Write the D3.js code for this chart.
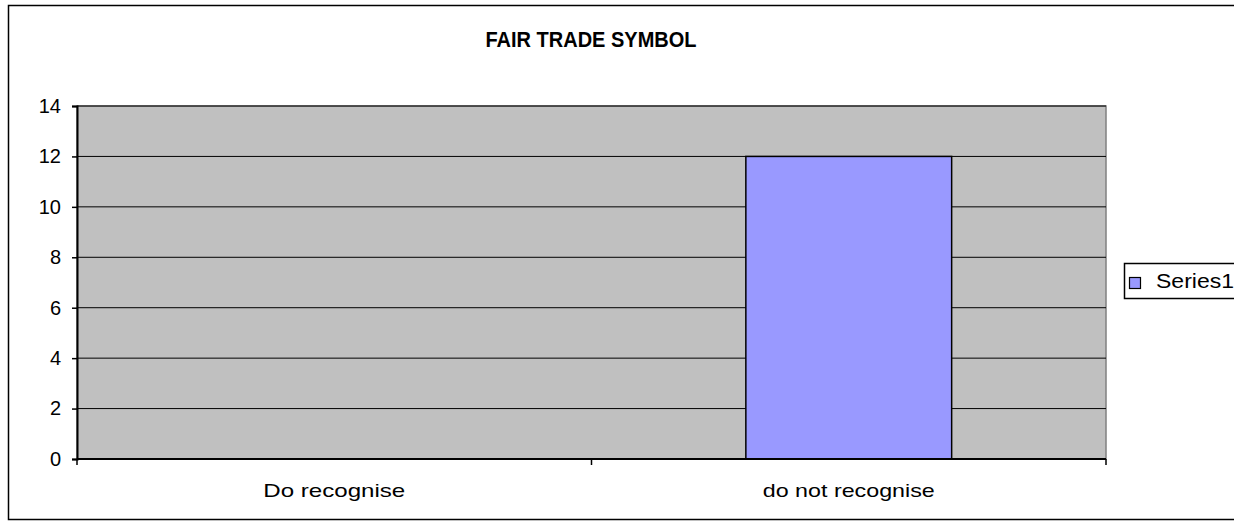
<!DOCTYPE html>
<html>
<head>
<meta charset="utf-8">
<script src="https://cdn.jsdelivr.net/npm/d3@7"></script>
<style>
  body { margin: 0; background: #fff; }
  text { font-family: Arial, "Liberation Sans", sans-serif; }
</style>
</head>
<body>
<div id="chart"></div>
<script>
const categories = ["Do recognise", "do not recognise"];
const series1 = [0, 12];
const yTicks = [0, 2, 4, 6, 8, 10, 12, 14];
const title = "FAIR TRADE SYMBOL";
const seriesName = "Series1";

const W = 1234, H = 521;
const m = { left: 77, right: 128, top: 106, bottom: 62 };

const svg = d3.select("#chart").append("svg")
  .attr("width", W).attr("height", H);

// outer frame
svg.append("rect")
  .attr("x", 8.5).attr("y", 5.5)
  .attr("width", 1232).attr("height", 514)
  .attr("fill", "#fff").attr("stroke", "#000").attr("stroke-width", 1.5);

const x = d3.scaleBand().domain(categories)
  .range([m.left, W - m.right]).paddingInner(0.6).paddingOuter(0.3);
const y = d3.scaleLinear().domain([0, 14]).range([H - m.bottom, m.top]);

// plot area
svg.append("rect")
  .attr("x", m.left).attr("y", m.top)
  .attr("width", W - m.right - m.left).attr("height", y(0) - m.top)
  .attr("fill", "#c0c0c0").attr("stroke", "#808080").attr("stroke-width", 1.5);

// gridlines
svg.append("g").selectAll("line").data(yTicks.slice(1)).join("line")
  .attr("x1", m.left).attr("x2", W - m.right)
  .attr("y1", d => y(d)).attr("y2", d => y(d))
  .attr("stroke", "#000").attr("stroke-width", 1);

// bars
svg.append("g").selectAll("rect").data(series1).join("rect")
  .attr("x", (d, i) => x(categories[i]))
  .attr("y", d => y(d))
  .attr("width", x.bandwidth())
  .attr("height", d => y(0) - y(d))
  .attr("fill", "#9999ff").attr("stroke", "#000").attr("stroke-width", 1.5)
  .style("display", d => d > 0 ? null : "none");

// y axis
const yAxis = svg.append("g")
  .attr("transform", `translate(${m.left},0)`)
  .call(d3.axisLeft(y).tickValues(yTicks).tickSize(5).tickPadding(11));
yAxis.select(".domain").attr("stroke-width", 2);
yAxis.selectAll(".tick line").attr("stroke-width", 1.5);
yAxis.selectAll("text").attr("font-size", 20).attr("fill", "#000")
  .style("font-family", "Arial, 'Liberation Sans', sans-serif");

// x axis
const step = x.step();
const xBounds = [m.left, m.left + step * 1, W - m.right];
const xAxis = svg.append("g").attr("transform", `translate(0,${y(0)})`);
xAxis.append("line").attr("x1", m.left).attr("x2", W - m.right)
  .attr("stroke", "#000").attr("stroke-width", 2);
xAxis.selectAll("line.tk").data(xBounds).join("line").attr("class", "tk")
  .attr("x1", d => d).attr("x2", d => d).attr("y1", 0).attr("y2", 6)
  .attr("stroke", "#000").attr("stroke-width", 1.5);
const catWidths = [142, 172];
xAxis.selectAll("text").data(categories).join("text")
  .attr("x", d => x(d) + x.bandwidth() / 2)
  .attr("y", 38).attr("text-anchor", "middle")
  .attr("font-size", 19).attr("fill", "#000")
  .attr("textLength", (d, i) => catWidths[i])
  .attr("lengthAdjust", "spacingAndGlyphs")
  .text(d => d);

// title
svg.append("text")
  .attr("x", 591).attr("y", 47).attr("text-anchor", "middle")
  .attr("font-size", 22).attr("font-weight", "bold")
  .attr("textLength", 211).attr("lengthAdjust", "spacingAndGlyphs")
  .text(title);

// legend
const lg = svg.append("g").attr("transform", "translate(1124,263)");
lg.append("rect").attr("x", 0.5).attr("y", 0.5).attr("width", 130).attr("height", 35)
  .attr("fill", "#fff").attr("stroke", "#000").attr("stroke-width", 1.5);
lg.append("rect").attr("x", 5.5).attr("y", 14.5).attr("width", 11).attr("height", 11)
  .attr("fill", "#9999ff").attr("stroke", "#000").attr("stroke-width", 1.2);
lg.append("text").attr("x", 32).attr("y", 25)
  .attr("font-size", 20).attr("textLength", 78).attr("lengthAdjust", "spacingAndGlyphs")
  .text(seriesName);
</script>
</body>
</html>
